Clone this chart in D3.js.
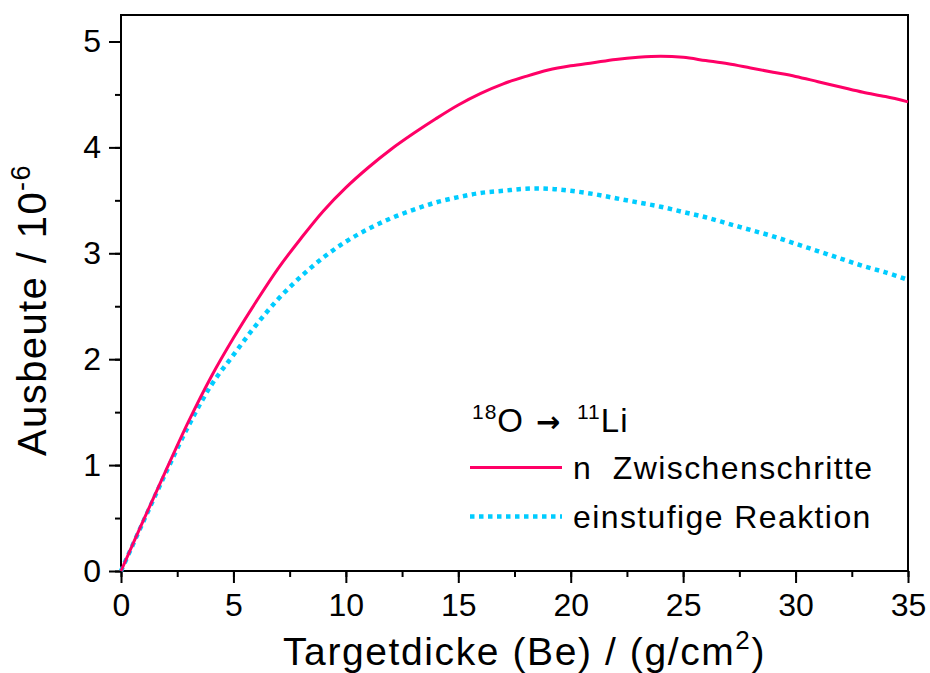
<!DOCTYPE html>
<html><head><meta charset="utf-8">
<script src="https://cdn.jsdelivr.net/npm/d3@7"></script>
<style>body{margin:0;background:#fff}svg{display:block}text{font-family:"Liberation Sans",Arial,sans-serif;fill:#000}</style>
</head><body>
<svg id="c" width="930" height="673"></svg>
<script>
const thickness = [0,1,2,3,4,5,6,7,8,9,10,11,12,13,14,15,16,17,18,19,20,21,22,23,24,25,26,27,28,29,30,31,32,33,34,35];
const yieldSteps = [0,0.48,0.95,1.41,1.83,2.20,2.54,2.86,3.14,3.40,3.62,3.81,3.98,4.13,4.27,4.40,4.51,4.60,4.67,4.73,4.77,4.80,4.83,4.85,4.86,4.85,4.82,4.79,4.75,4.71,4.67,4.62,4.57,4.52,4.48,4.43];
const yieldSingle = [0,0.47,0.93,1.37,1.75,2.04,2.32,2.57,2.78,2.96,3.11,3.23,3.33,3.41,3.48,3.53,3.57,3.59,3.61,3.61,3.59,3.56,3.52,3.48,3.44,3.39,3.34,3.28,3.22,3.16,3.09,3.02,2.95,2.88,2.82,2.75];
const xTicks = [0,5,10,15,20,25,30,35];
const yTicks = [0,1,2,3,4,5];
const seriesNames = ["n\u00a0\u00a0Zwischenschritte","einstufige Reaktion"];

const svg = d3.select("#c");
const L=121, R=908, T=15, B=571;
const x = d3.scaleLinear().domain([0,35]).range([L,R]);
const y = d3.scaleLinear().domain([0,5.25]).range([B,T]);

// frame
svg.append("rect").attr("x",L).attr("y",T).attr("width",R-L).attr("height",B-T)
  .attr("fill","none").attr("stroke","#000").attr("stroke-width",2);

// x axis
const xMinor = d3.range(0,35.01,2.5);
const xa = svg.append("g").attr("transform",`translate(0,${B})`);
xa.call(d3.axisBottom(x).tickValues(xMinor).tickSize(6).tickFormat(""));
xa.append("g").call(d3.axisBottom(x).tickValues(xTicks).tickSize(12).tickPadding(10).tickFormat(d3.format("d")));
xa.selectAll(".domain").remove();
xa.selectAll("line").attr("stroke","#000").attr("stroke-width",2);
xa.selectAll("text").attr("font-size",32).style("font-family","'Liberation Sans',Arial,sans-serif").attr("fill","#000");

// y axis
const yMinor = d3.range(0,5.01,0.5);
const ya = svg.append("g").attr("transform",`translate(${L},0)`);
ya.call(d3.axisLeft(y).tickValues(yMinor).tickSize(6).tickFormat(""));
ya.append("g").call(d3.axisLeft(y).tickValues(yTicks).tickSize(12).tickPadding(8).tickFormat(d3.format("d")));
ya.selectAll(".domain").remove();
ya.selectAll("line").attr("stroke","#000").attr("stroke-width",2);
ya.selectAll("text").attr("font-size",32).style("font-family","'Liberation Sans',Arial,sans-serif").attr("fill","#000");

// lines
const line = d3.line().x((d,i)=>x(thickness[i])).y(d=>y(d)).curve(d3.curveCatmullRom.alpha(0.5));
svg.append("path").attr("d",line(yieldSingle)).attr("fill","none").attr("stroke","#00CCFF")
  .attr("stroke-width",4.5).attr("stroke-dasharray","4.5,4.5");
svg.append("path").attr("d",line(yieldSteps)).attr("fill","none").attr("stroke","#FF0066")
  .attr("stroke-width",3);

// axis titles
const xt = svg.append("text").attr("x",283).attr("y",665).attr("font-size",39).attr("letter-spacing",1.6);
xt.append("tspan").text("Targetdicke (Be) / (g/cm");
xt.append("tspan").attr("dy",-16).attr("font-size",26).text("2");
xt.append("tspan").attr("dy",16).text(")");

const yt = svg.append("text").attr("transform",`translate(46,456) rotate(-90)`).attr("font-size",40).attr("letter-spacing",1.4);
yt.append("tspan").text("Ausbeute / 10");
yt.append("tspan").attr("dy",-16).attr("font-size",27).text("-6");

// legend
const lt = svg.append("text").attr("x",472).attr("y",432).attr("font-size",33).attr("letter-spacing",1);
lt.append("tspan").attr("dy",-13).attr("font-size",21).text("18");
lt.append("tspan").attr("dy",13).text("O");
lt.append("tspan").attr("x",536).attr("font-family","'DejaVu Sans',sans-serif").attr("font-weight","bold").attr("font-size",29).text("\u2192");
lt.append("tspan").attr("x",577).attr("dy",-13).attr("font-size",21).text("11");
lt.append("tspan").attr("dy",13).text("Li");

svg.append("line").attr("x1",470).attr("x2",562).attr("y1",467.5).attr("y2",467.5)
  .attr("stroke","#FF0066").attr("stroke-width",3);
svg.append("text").attr("x",573).attr("y",479).attr("font-size",32).attr("letter-spacing",1.4).text(seriesNames[0]);
svg.append("line").attr("x1",470).attr("x2",562).attr("y1",516.5).attr("y2",516.5)
  .attr("stroke","#00CCFF").attr("stroke-width",4.5).attr("stroke-dasharray","4.5,4.5");
svg.append("text").attr("x",573).attr("y",528).attr("font-size",32).attr("letter-spacing",1.4).text(seriesNames[1]);
</script>
</body></html>
